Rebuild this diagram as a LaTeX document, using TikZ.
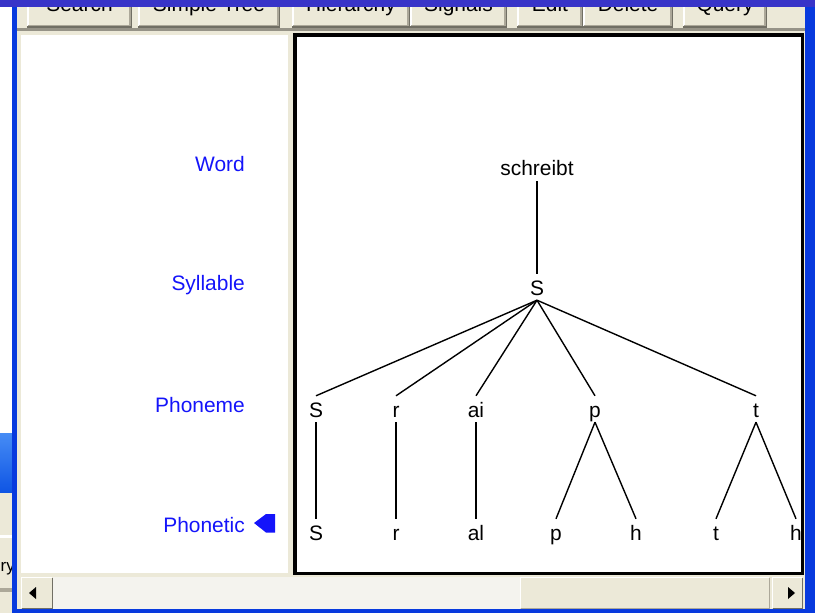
\documentclass[tikz,border=0pt]{standalone}
\usepackage{fontspec}
\setmainfont{Liberation Sans}
\definecolor{face}{RGB}{236,233,216}
\definecolor{shadowc}{RGB}{172,168,153}
\definecolor{darkc}{RGB}{113,111,100}
\definecolor{topblue}{RGB}{56,52,200}
\definecolor{frameblue}{RGB}{8,58,222}
\definecolor{lblue}{RGB}{20,20,250}
\definecolor{trackc}{RGB}{244,243,238}
\definecolor{sepc}{RGB}{150,147,135}
\begin{document}
\begin{tikzpicture}[x=1bp,y=-1bp,
  font=\fontsize{21}{24}\selectfont,
  tn/.style={inner xsep=0pt, inner ysep=5bp, text height=16bp, text depth=0pt, anchor=base},
  lvl/.style={text=lblue, anchor=base east, inner sep=0pt},
  edge/.style={line width=1.4bp, black},
  btnface/.style={fill=face},
  btntext/.style={anchor=base, inner sep=0pt, text=black}]
\useasboundingbox (0,0) rectangle (815,613);
% background
\fill[face] (0,0) rectangle (815,613);
% partial window at the far left
\fill[white] (0,7.5) rectangle (12,433);
\shade[top color={rgb,255:red,70;green,140;blue,245}, bottom color={rgb,255:red,15;green,85;blue,228}] (0,433) rectangle (12,492);
\fill[white] (0,535) rectangle (12,538);
\begin{scope}
  \clip (0,538) rectangle (12,588);
  \node[anchor=base east, inner sep=0pt, font=\fontsize{17}{20}\selectfont] (qleft) at (15,571) {Query};
\end{scope}
\fill[shadowc] (0,588) rectangle (12,592);
% buttons
\foreach \a/\b/\t [count=\i] in {27/132/Search, 138/280/Simple Tree, 292/410/Hierarchy, 410/507/Signals, 517/583/Edit, 583/673/Delete, 683/767/Query}{
  \fill[face] (\a,0) rectangle (\b,27);
  \draw[white, line width=1.5bp] (\a+0.75,27) -- (\a+0.75,0);
  \draw[shadowc, line width=1.5bp] (\a+1,25.5) -- (\b-2,25.5) -- (\b-2,0);
  \draw[darkc, line width=1.5bp] (\a,27.25) -- (\b-0.5,27.25) -- (\b-0.5,0);
  \node[btntext] (btn\i) at ({(\a+\b)/2},12) {\t};
}
\fill[sepc] (17,28.5) rectangle (805,31.5);
% top bar
\fill[topblue] (0,0) rectangle (815,7.5);
% frame strips
\fill[frameblue] (12,7.5) rectangle (17,613);
\fill[frameblue] (805,7.5) rectangle (815,613);
\fill[frameblue] (12,609) rectangle (815,613);
% left panel
\fill[white] (21,35) rectangle (288,573);
% tree panel
\draw[line width=3.5bp, fill=white] (295,35) rectangle (802.5,573.5);
% scrollbar
\fill[trackc] (53,577) rectangle (520,608.5);
\fill[face] (21,577) rectangle (53,608.5);
\draw[white, line width=1bp] (21.5,608) -- (21.5,577.5) -- (52,577.5);
\draw[darkc, line width=1bp] (21.5,608) -- (52.5,608) -- (52.5,577.5);
\fill[black] (29,593) -- (36,587) -- (36,599) -- cycle;
\fill[face] (520,577) rectangle (770,608.5);
\draw[white, line width=1bp] (520.5,608) -- (520.5,577.5) -- (769,577.5);
\draw[shadowc, line width=1bp] (520.5,608) -- (769.5,608) -- (769.5,577.5);
\fill[face] (772,577) rectangle (803,608.5);
\draw[white, line width=1bp] (772.5,608) -- (772.5,577.5) -- (802,577.5);
\draw[darkc, line width=1bp] (772.5,608) -- (802.5,608) -- (802.5,577.5);
\fill[black] (795,593) -- (788,587) -- (788,599) -- cycle;
% level labels
\node[lvl] (lw) at (245,172) {Word};
\node[lvl] (ls) at (245,290.5) {Syllable};
\node[lvl] (lp) at (245,412) {Phoneme};
\node[lvl] (lf) at (245,532) {Phonetic};
\fill[lblue] (254,523) -- (266,514) -- (275,514) -- (275,532.5) -- (266,532.5) -- cycle;
% tree
\node[tn] (w) at (537,176) {schreibt};
\node[tn] (s) at (537,295) {S};
\node[tn] (p1) at (316,417) {S};
\node[tn] (p2) at (396,417) {r};
\node[tn] (p3) at (476,417) {ai};
\node[tn] (p4) at (595,417) {p};
\node[tn] (p5) at (756,417) {t};
\node[tn] (f1) at (316,540) {S};
\node[tn] (f2) at (396,540) {r};
\node[tn] (f3) at (476,540) {al};
\node[tn] (f4) at (556,540) {p};
\node[tn] (f5) at (636,540) {h};
\node[tn] (f6) at (716,540) {t};
\node[tn] (f7) at (796,540) {h};
\draw[edge] (w.south) -- (s.north);
\foreach \c in {p1,p2,p3,p4,p5}{\draw[edge] (s.south) -- (\c.north);}
\draw[edge] (p1.south) -- (f1.north);
\draw[edge] (p2.south) -- (f2.north);
\draw[edge] (p3.south) -- (f3.north);
\draw[edge] (p4.south) -- (f4.north);
\draw[edge] (p4.south) -- (f5.north);
\draw[edge] (p5.south) -- (f6.north);
\draw[edge] (p5.south) -- (f7.north);
\end{tikzpicture}
\end{document}
